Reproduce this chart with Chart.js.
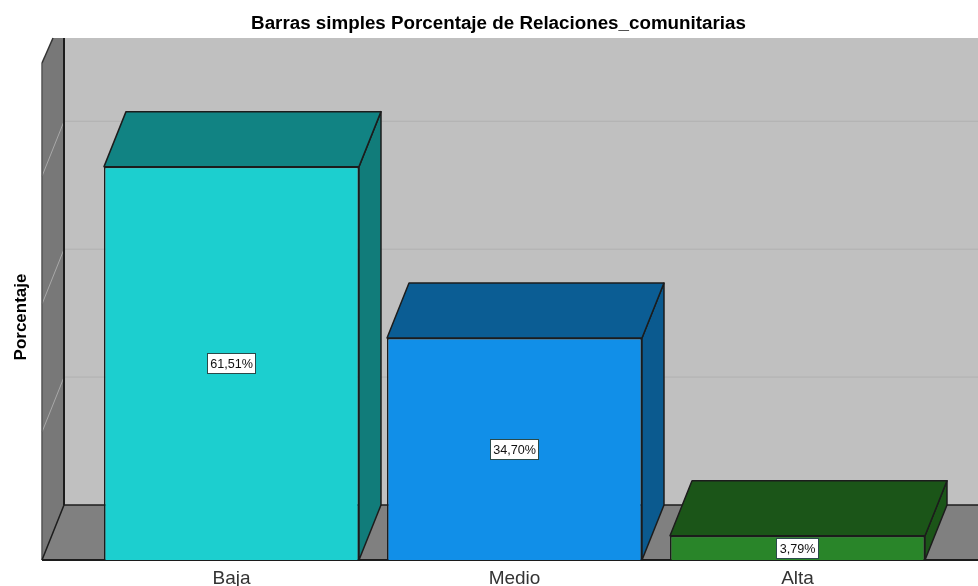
<!DOCTYPE html>
<html lang="es">
<head>
    <meta charset="UTF-8">
    <title>Barras simples Porcentaje de Relaciones_comunitarias</title>
    <script src="https://cdn.jsdelivr.net/npm/chart.js"></script>
    <style>
        html, body { margin: 0; padding: 0; background: #fff; overflow: hidden; }
        canvas { display: block; }
    </style>
</head>
<body>
    <canvas id="barChart" width="978" height="586"></canvas>

    <script>
        const categories = ['Baja', 'Medio', 'Alta'];
        const percentages = [61.51, 34.70, 3.79];
        const gridValues = [20, 40, 60];
        const frontColors = ['#1ccfcf', '#118fe8', '#298529'];
        const topColors = ['#118383', '#0b5d94', '#1b5518'];
        const sideColors = ['#117c7a', '#0b5a8f', '#1b5518'];

        const DEPTH_X = 22;
        const DEPTH_Y = 55;
        const WALL_OFFSET = 48;
        const PLOT_TOP = 38;
        const EDGE = '#1c1c1c';

        function poly(ctx, pts, fill, stroke, lw) {
            ctx.beginPath();
            pts.forEach((p, i) => i ? ctx.lineTo(p[0], p[1]) : ctx.moveTo(p[0], p[1]));
            ctx.closePath();
            if (fill) { ctx.fillStyle = fill; ctx.fill(); }
            if (stroke) { ctx.strokeStyle = stroke; ctx.lineWidth = lw || 1.5; ctx.stroke(); }
        }

        function line(ctx, x1, y1, x2, y2, color, lw) {
            ctx.beginPath();
            ctx.moveTo(x1, y1);
            ctx.lineTo(x2, y2);
            ctx.strokeStyle = color;
            ctx.lineWidth = lw;
            ctx.stroke();
        }

        // walls and floor of the 3D box, behind the bars
        const boxPlugin = {
            id: 'box3d',
            beforeDatasetsDraw(chart) {
                const ctx = chart.ctx;
                const y = chart.scales.y;
                const base = y.getPixelForValue(0);
                const left = chart.chartArea.left - WALL_OFFSET;
                const backX = left + DEPTH_X;
                const backY = base - DEPTH_Y;
                const right = chart.width;
                ctx.save();
                ctx.lineJoin = 'round';
                poly(ctx, [[backX, PLOT_TOP], [right, PLOT_TOP], [right, backY], [backX, backY]], '#c0c0c0');
                gridValues.forEach(v => {
                    const py = y.getPixelForValue(v);
                    line(ctx, backX, py - DEPTH_Y, right, py - DEPTH_Y, '#b0b0b0', 1);
                });
                poly(ctx, [[left, base], [backX, backY], [right, backY], [right, base]], '#808080');
                poly(ctx, [[left, base], [backX, backY], [backX, PLOT_TOP], [backX - 11, PLOT_TOP], [left, PLOT_TOP + 25]], '#787878');
                gridValues.forEach(v => {
                    const py = y.getPixelForValue(v);
                    line(ctx, backX, py - DEPTH_Y, left, py, '#a8a8a8', 1);
                });
                line(ctx, left, base, left, PLOT_TOP + 25, '#555', 1.5);
                line(ctx, left, PLOT_TOP + 25, backX - 11, PLOT_TOP, '#333', 1.5);
                line(ctx, backX, PLOT_TOP, backX, backY, EDGE, 2);
                line(ctx, backX, backY, right, backY, EDGE, 1.5);
                line(ctx, left, base, backX, backY, EDGE, 1.5);
                line(ctx, left, base, right, base, EDGE, 2);

                // top and side faces of each bar
                chart.getDatasetMeta(0).data.forEach((bar, i) => {
                    const x1 = bar.x - bar.width / 2;
                    const x2 = bar.x + bar.width / 2;
                    poly(ctx, [[x2, bar.y], [x2 + DEPTH_X, bar.y - DEPTH_Y], [x2 + DEPTH_X, base - DEPTH_Y], [x2, base]], sideColors[i], EDGE);
                    poly(ctx, [[x1, bar.y], [x1 + DEPTH_X, bar.y - DEPTH_Y], [x2 + DEPTH_X, bar.y - DEPTH_Y], [x2, bar.y]], topColors[i], EDGE);
                });
                ctx.restore();
            },
            afterDatasetsDraw(chart) {
                const ctx = chart.ctx;
                const base = chart.scales.y.getPixelForValue(0);
                ctx.save();
                ctx.font = '12.6px "Liberation Sans"';
                ctx.textAlign = 'center';
                ctx.textBaseline = 'middle';
                chart.getDatasetMeta(0).data.forEach((bar, i) => {
                    const cy = Math.round((bar.y + base) / 2) + 0.5;
                    const cx = Math.floor(bar.x) + 0.5;
                    const label = percentages[i].toFixed(2).replace('.', ',') + '%';
                    const halfW = Math.round(ctx.measureText(label).width / 2) + 3;
                    ctx.fillStyle = '#fff';
                    ctx.fillRect(cx - halfW, cy - 10, halfW * 2, 20);
                    ctx.strokeStyle = '#2a4a4a';
                    ctx.lineWidth = 1;
                    ctx.strokeRect(cx - halfW, cy - 10, halfW * 2, 20);
                    ctx.fillStyle = '#111';
                    ctx.fillText(label, cx, cy + 1);
                });
                ctx.restore();
            }
        };

        new Chart(document.getElementById('barChart').getContext('2d'), {
            type: 'bar',
            plugins: [boxPlugin],
            data: {
                labels: categories,
                datasets: [{
                    data: percentages,
                    backgroundColor: frontColors,
                    borderColor: EDGE,
                    borderWidth: 1.5,
                    categoryPercentage: 1,
                    barPercentage: 0.901,
                }],
            },
            options: {
                responsive: false,
                animation: false,
                // left padding only pushes the title centre over; the axis title is pulled back below
                layout: { padding: { left: 58, right: 39 } },
                plugins: {
                    legend: { display: false },
                    tooltip: { enabled: false },
                    title: {
                        display: true,
                        text: 'Barras simples Porcentaje de Relaciones_comunitarias',
                        color: '#000',
                        font: { family: '"Liberation Sans"', size: 18.8, weight: 'bold', lineHeight: 1.2 },
                        padding: { top: 13, bottom: 38.4 },
                    },
                },
                scales: {
                    x: {
                        grid: { display: false, drawTicks: false },
                        border: { display: false },
                        ticks: {
                            color: '#333',
                            padding: 7.5,
                            maxRotation: 0,
                            font: { family: '"Liberation Sans"', size: 19 },
                        },
                        afterFit(scale) { scale.height = 26; },
                    },
                    y: {
                        min: 0,
                        max: 76,
                        grid: { display: false },
                        border: { display: false },
                        ticks: { display: false, stepSize: 20 },
                        title: {
                            display: true,
                            text: 'Porcentaje',
                            color: '#000',
                            font: { family: '"Liberation Sans"', size: 17, weight: 'bold', lineHeight: 1.2 },
                            padding: { top: -46.4, bottom: 0 },
                        },
                        afterFit(scale) { scale.width = 32; },
                    },
                },
            },
        });
    </script>
</body>
</html>
